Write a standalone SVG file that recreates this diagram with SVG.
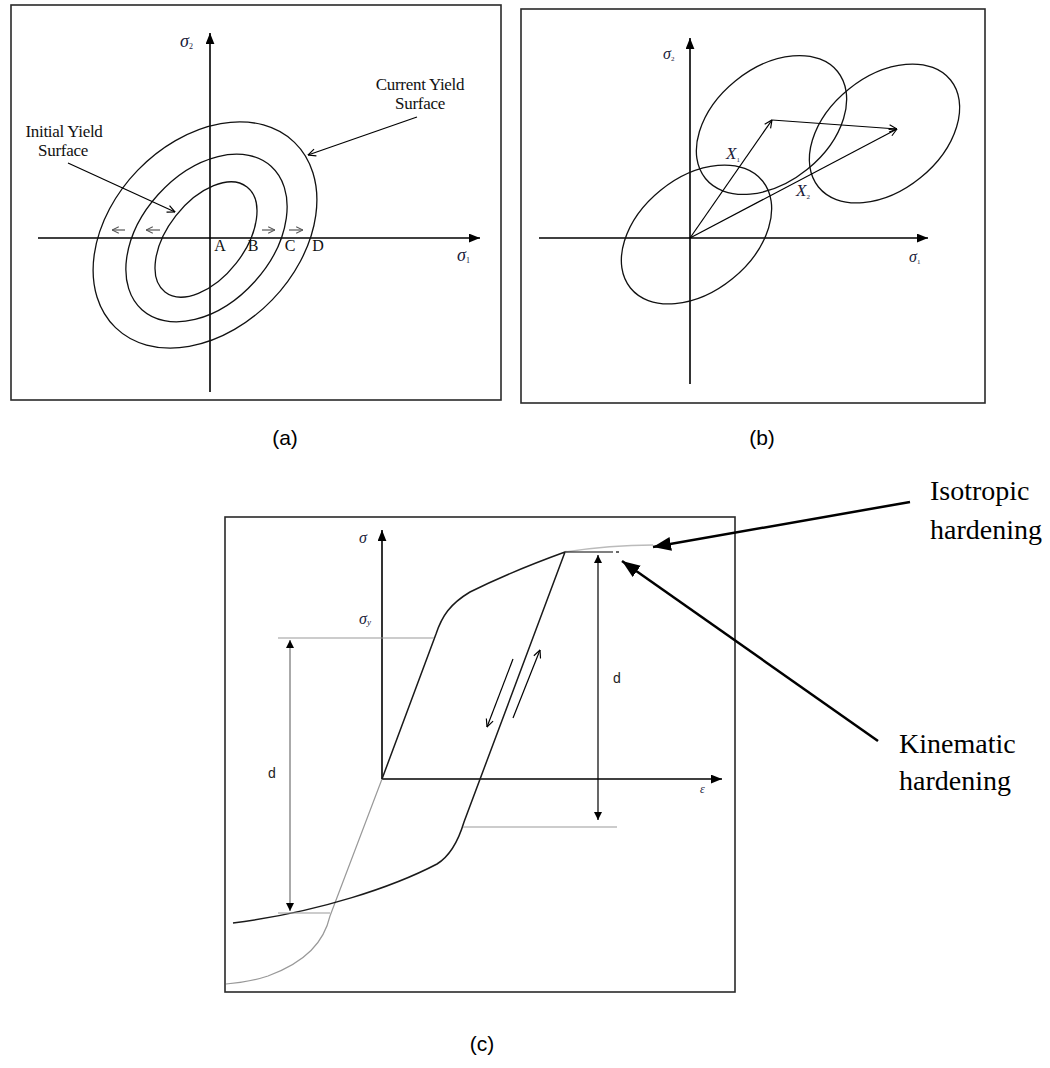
<svg xmlns="http://www.w3.org/2000/svg" width="1050" height="1068" viewBox="0 0 1050 1068">
<style>
.box{fill:none;stroke:#2a2a2a;stroke-width:1.6}
.ax{fill:none;stroke:#000;stroke-width:1.6}
.el{fill:none;stroke:#111;stroke-width:1.3}
.thin{fill:none;stroke:#000;stroke-width:1.2}
.gray{fill:none;stroke:#999;stroke-width:1.2}
.sm{fill:none;stroke:#555;stroke-width:1.2}
.gdim{fill:none;stroke:#aaa;stroke-width:2}
.crv{fill:none;stroke:#1a1a1a;stroke-width:1.5}
.lead{fill:none;stroke:#000;stroke-width:2.5}
.sf{font-family:"Liberation Serif","Times New Roman",serif;fill:#111}
.sym{font-family:"Liberation Serif","Times New Roman",serif;font-style:italic;fill:#1a1a3a}
.big{font-family:"Liberation Serif","Times New Roman",serif;font-size:28px;fill:#000}
.cap{font-family:"Liberation Sans","Open Sans",sans-serif;font-size:21px;fill:#000}
.dl{font-family:"Liberation Sans","Open Sans",sans-serif;font-size:14px;fill:#222}
</style>
<defs>
<marker id="fa" viewBox="0 0 10 8" refX="10" refY="4" markerWidth="11" markerHeight="9" markerUnits="userSpaceOnUse" orient="auto"><path d="M0,0 L10,4 L0,8 z" fill="#000"/></marker>
<marker id="oa" viewBox="0 0 10 10" refX="9.5" refY="5" markerWidth="9" markerHeight="9" markerUnits="userSpaceOnUse" orient="auto"><path d="M1,1 L9.5,5 L1,9" fill="none" stroke="#000" stroke-width="1.3"/></marker>
<marker id="og" viewBox="0 0 10 10" refX="9.5" refY="5" markerWidth="8" markerHeight="8" markerUnits="userSpaceOnUse" orient="auto"><path d="M1,1 L9.5,5 L1,9" fill="none" stroke="#555" stroke-width="1.3"/></marker>
<marker id="fb" viewBox="0 0 18 14" refX="18" refY="7" markerWidth="18" markerHeight="14" markerUnits="userSpaceOnUse" orient="auto"><path d="M0,0 L18,7 L0,14 z" fill="#000"/></marker>
<marker id="fs" viewBox="0 0 8 8" refX="8" refY="4" markerWidth="9" markerHeight="8" markerUnits="userSpaceOnUse" orient="auto-start-reverse"><path d="M0,0 L8,4 L0,8 z" fill="#000"/></marker>
</defs>

<g id="panel-a">
<rect class="box" x="11" y="5" width="490" height="395"/>
<line class="ax" x1="210" y1="392" x2="210" y2="33" marker-end="url(#fa)"/>
<line class="ax" x1="38" y1="238" x2="480" y2="238" marker-end="url(#fa)"/>
<ellipse class="el" cx="206" cy="239.5" rx="66.6" ry="38.4" transform="rotate(-52 206 239.5)"/>
<ellipse class="el" cx="206.5" cy="238" rx="96.5" ry="65" transform="rotate(-48 206.5 238)"/>
<ellipse class="el" cx="205" cy="235" rx="128.8" ry="93.4" transform="rotate(-46 205 235)"/>
<g id="a-small-arrows">
<line class="sm" x1="125" y1="230" x2="112" y2="230" marker-end="url(#og)"/>
<line class="sm" x1="160" y1="230" x2="146" y2="230" marker-end="url(#og)"/>
<line class="sm" x1="262" y1="230" x2="275" y2="230" marker-end="url(#og)"/>
<line class="sm" x1="289" y1="230" x2="303" y2="230" marker-end="url(#og)"/>
</g>
<text class="sf" font-size="16" x="220" y="251" text-anchor="middle">A</text>
<text class="sf" font-size="16" x="253" y="251" text-anchor="middle">B</text>
<text class="sf" font-size="16" x="290" y="251" text-anchor="middle">C</text>
<text class="sf" font-size="16" x="318" y="251" text-anchor="middle">D</text>
<text class="sym" font-size="18" x="180" y="47">σ<tspan font-size="8" font-style="normal" dy="2">2</tspan></text>
<text class="sym" font-size="18" x="457" y="261">σ<tspan font-size="8" font-style="normal" dy="2">1</tspan></text>
<g id="a-current">
<text class="sf" font-size="17" x="420" y="90" text-anchor="middle" letter-spacing="-0.3">Current Yield</text>
<text class="sf" font-size="17" x="420" y="109" text-anchor="middle" letter-spacing="-0.3">Surface</text>
</g>
<g id="a-initial">
<text class="sf" font-size="17" x="64" y="137" text-anchor="middle" letter-spacing="-0.3">Initial Yield</text>
<text class="sf" font-size="17" x="63" y="156" text-anchor="middle" letter-spacing="-0.3">Surface</text>
</g>
</g>

<g id="panel-b">
<rect class="box" x="521" y="9" width="464" height="394"/>
<line class="ax" x1="690" y1="384" x2="690" y2="38" marker-end="url(#fa)"/>
<line class="ax" x1="539" y1="238" x2="928" y2="238" marker-end="url(#fa)"/>
<ellipse class="el" cx="696.5" cy="234.5" rx="85" ry="57" transform="rotate(-39 696.5 234.5)"/>
<ellipse class="el" cx="771.5" cy="125" rx="85" ry="57" transform="rotate(-39 771.5 125)"/>
<ellipse class="el" cx="884.5" cy="133.5" rx="85" ry="57" transform="rotate(-39 884.5 133.5)"/>
<text class="sym" font-size="16" x="663" y="59">σ<tspan font-size="7" font-style="normal" dy="2">2</tspan></text>
<text class="sym" font-size="16" x="909" y="262">σ<tspan font-size="7" font-style="normal" dy="2">1</tspan></text>
<text class="sym" font-size="17" x="726" y="159">X<tspan font-size="7" font-style="normal" dy="3">1</tspan></text>
<text class="sym" font-size="17" x="796" y="196">X<tspan font-size="7" font-style="normal" dy="3">2</tspan></text>
</g>

<g id="panel-c">
<rect class="box" x="225" y="517" width="510" height="475"/>
<line class="ax" x1="382" y1="779" x2="382" y2="530" marker-end="url(#fa)"/>
<line class="ax" x1="382" y1="779" x2="722" y2="779" marker-end="url(#fa)"/>
<path class="gray" d="M382,779 L330,916 C324,942 306,962 268,976 Q250,982 226,984"/>
<path class="crv" d="M382,779 L436,634 C442,616 450,604 470,592 Q510,572 565,552 L464,822 C458,842 450,856 437,864 C395,886 320,912 233,923"/>
<path fill="none" stroke="#bbb" stroke-width="1.5" d="M565,552 Q610,545 653,545"/>
<line class="thin" x1="565" y1="552" x2="613" y2="552"/>
<line class="thin" x1="616" y1="552" x2="619" y2="552"/>
<line class="gray" x1="278" y1="638" x2="434" y2="638"/>
<line class="gray" x1="278" y1="913" x2="330" y2="913"/>
<line class="gray" x1="463" y1="827" x2="617" y2="827"/>
<line class="gdim" x1="290" y1="640" x2="290" y2="911" marker-start="url(#fs)" marker-end="url(#fs)"/>
<line class="thin" x1="598" y1="555" x2="598" y2="820" marker-start="url(#fs)" marker-end="url(#fs)"/>
<line class="thin" x1="513" y1="659" x2="487" y2="727" marker-end="url(#oa)"/>
<line class="thin" x1="513" y1="718" x2="540" y2="650" marker-end="url(#oa)"/>
<text class="sym" font-size="16" x="359" y="543">σ</text>
<text class="sym" font-size="16" x="359" y="624">σ<tspan font-size="9" dy="1">y</tspan></text>
<text class="sym" font-size="12" x="700" y="793">ε</text>
<text class="dl" x="268" y="778">d</text>
<text class="dl" x="613" y="683">d</text>
</g>

<g id="label-isotropic">
<text class="big" x="930" y="500">Isotropic</text>
<text class="big" x="930" y="539">hardening</text>
</g>
<g id="label-kinematic">
<text class="big" x="899" y="753">Kinematic</text>
<text class="big" x="899" y="790">hardening</text>
</g>

<g id="connectors">
<line class="thin" x1="417" y1="117" x2="308" y2="155" marker-end="url(#oa)"/>
<line class="thin" x1="68" y1="163" x2="175" y2="212" marker-end="url(#oa)"/>
<line class="thin" x1="690" y1="238" x2="772" y2="120" marker-end="url(#oa)"/>
<line class="thin" x1="772" y1="120" x2="897" y2="129" marker-end="url(#oa)"/>
<line class="thin" x1="690" y1="238" x2="897" y2="129" marker-end="url(#oa)"/>
<line class="lead" x1="910" y1="502" x2="653" y2="547" marker-end="url(#fb)"/>
<line class="lead" x1="878" y1="741" x2="622" y2="561" marker-end="url(#fb)"/>
</g>

<g id="captions">
<text class="cap" x="285" y="445" text-anchor="middle">(a)</text>
<text class="cap" x="762" y="445" text-anchor="middle">(b)</text>
<text class="cap" x="482" y="1051" text-anchor="middle">(c)</text>
</g>
</svg>
